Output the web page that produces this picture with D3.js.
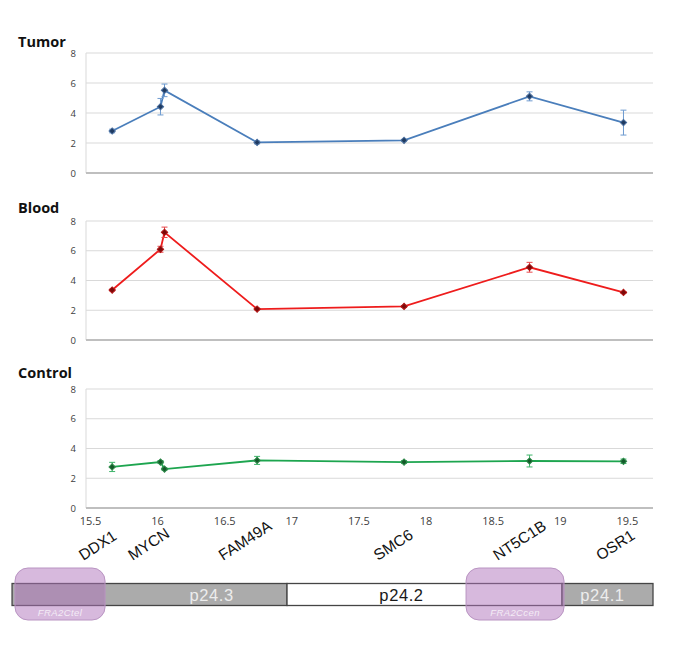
<!DOCTYPE html>
<html><head><meta charset="utf-8">
<script src="https://cdn.jsdelivr.net/npm/d3@7"></script>
<style>body{margin:0;background:#fff}svg{display:block}</style>
</head><body>
<svg id="c" width="685" height="657"></svg>
<script>
// ---- data ----
const genes = ["DDX1", "MYCN", "MYCN", "FAM49A", "SMC6", "NT5C1B", "OSR1"];
const geneLabels = ["DDX1", "MYCN", "FAM49A", "SMC6", "NT5C1B", "OSR1"];
const positions = [15.68, 16.04, 16.07, 16.76, 17.855, 18.79, 19.49]; // Mb
const labelPositions = [15.68, 16.04, 16.76, 17.855, 18.79, 19.49];
const tumor = [2.8, 4.42, 5.51, 2.04, 2.18, 5.11, 3.36];
const tumorErr = [0.12, 0.55, 0.42, 0.1, 0.06, 0.3, 0.83];
const blood = [3.36, 6.1, 7.24, 2.08, 2.26, 4.89, 3.2];
const bloodErr = [0.06, 0.2, 0.35, 0.06, 0.06, 0.33, 0.06];
const control = [2.76, 3.09, 2.62, 3.2, 3.09, 3.16, 3.14];
const controlErr = [0.31, 0.1, 0.08, 0.27, 0.1, 0.4, 0.15];
const yTicks = [0, 2, 4, 6, 8];
const xTicks = [15.5, 16, 16.5, 17, 17.5, 18, 18.5, 19, 19.5];
const bandNames = ["p24.3", "p24.2", "p24.1"];
const bandStarts = [14.934, 16.983, 19.032];
const bandEnds = [16.983, 19.032, 19.71];
const fragileNames = ["FRA2Ctel", "FRA2Ccen"];
const fragileStarts = [14.956, 18.317];
const fragileEnds = [15.627, 19.047];

// ---- layout ----
const svg = d3.select("#c");
const x = d3.scaleLinear().domain([15.485, 19.71]).range([86, 653]);

const panels = [
  {title: "Tumor", vals: tumor, err: tumorErr, top: 53, bottom: 173, titleY: 47,
   line: "#4A7EBB", errC: "#6E9BD0", mFill: "#1F3A60", mStroke: "#4A6E9E"},
  {title: "Blood", vals: blood, err: bloodErr, top: 221, bottom: 340, titleY: 213,
   line: "#EE1C1C", errC: "#E8474A", mFill: "#7A0A0A", mStroke: "#B01515"},
  {title: "Control", vals: control, err: controlErr, top: 389, bottom: 508, titleY: 378,
   line: "#1DA54F", errC: "#3DB56A", mFill: "#145A2A", mStroke: "#2F8A4A"}
];

const diamond = d3.symbol().type(d3.symbolSquare).size(20);

panels.forEach((p, pi) => {
  const y = d3.scaleLinear().domain([0, 8]).range([p.bottom, p.top]);
  const g = svg.append("g");
  g.selectAll("line.grid").data(yTicks.filter(t => t > 0)).join("line")
    .attr("x1", x.range()[0]).attr("x2", x.range()[1])
    .attr("y1", d => y(d)).attr("y2", d => y(d))
    .attr("stroke", "#D9D9D9").attr("stroke-width", 1);
  g.append("line").attr("x1", x.range()[0]).attr("x2", x.range()[0])
    .attr("y1", p.top).attr("y2", p.bottom).attr("stroke", "#D9D9D9");
  const ya = d3.axisLeft(y).tickValues(yTicks).tickSize(0).tickPadding(10).tickFormat(d3.format("d"));
  const yg = g.append("g").attr("transform", `translate(${x.range()[0]},0)`).call(ya);
  yg.select(".domain").remove();
  yg.selectAll("text").attr("font-family", "Open Sans, sans-serif").attr("font-size", 9.5).attr("fill", "#404040");
  g.append("line").attr("x1", x.range()[0]).attr("x2", x.range()[1])
    .attr("y1", p.bottom).attr("y2", p.bottom).attr("stroke", "#BFBFBF").attr("stroke-width", 2);
  if (pi === 2) {
    const xa = d3.axisBottom(x).tickValues(xTicks).tickSize(0).tickPadding(9).tickFormat(d => String(d));
    const xg = g.append("g").attr("transform", `translate(2,${p.bottom})`).call(xa);
    xg.select(".domain").remove();
    xg.selectAll("text").attr("font-family", "Open Sans, sans-serif").attr("font-size", 11).attr("fill", "#404040");
  }
  svg.append("text").attr("x", 18).attr("y", p.titleY).text(p.title)
    .attr("font-family", "Open Sans, sans-serif").attr("font-weight", "bold").attr("font-size", 14.5).attr("fill", "#111");
  const pts = positions.map((pos, i) => [x(pos), y(p.vals[i])]);
  g.append("path").attr("d", d3.line()(pts)).attr("fill", "none")
    .attr("stroke", p.line).attr("stroke-width", 1.8);
  const eb = g.selectAll("g.eb").data(positions).join("g");
  eb.append("line").attr("x1", d => x(d)).attr("x2", d => x(d))
    .attr("y1", (d, i) => y(p.vals[i] + p.err[i])).attr("y2", (d, i) => y(p.vals[i] - p.err[i]))
    .attr("stroke", p.errC).attr("stroke-width", 1);
  [1, -1].forEach(s => {
    eb.append("line").attr("x1", d => x(d) - 3).attr("x2", d => x(d) + 3)
      .attr("y1", (d, i) => y(p.vals[i] + s * p.err[i])).attr("y2", (d, i) => y(p.vals[i] + s * p.err[i]))
      .attr("stroke", p.errC).attr("stroke-width", 1);
  });
  g.selectAll("path.m").data(positions).join("path")
    .attr("d", diamond)
    .attr("transform", (d, i) => `translate(${x(d)},${y(p.vals[i])}) rotate(45)`)
    .attr("fill", p.mFill).attr("stroke", p.mStroke).attr("stroke-width", 1);
});

// gene labels
const labelDx = [-29, -28, -34, -26, -32, -23];
svg.selectAll("text.gene").data(geneLabels).join("text")
  .attr("transform", (d, i) => `translate(${x(labelPositions[i]) + labelDx[i]},561) rotate(-33)`)
  .text(d => d)
  .attr("font-family", "Liberation Sans, Arial, sans-serif").attr("font-size", 15.5).attr("fill", "#111");

// chromosome ideogram
const barTop = 583.5, barH = 22;
svg.selectAll("rect.band").data(bandNames).join("rect")
  .attr("x", (d, i) => x(bandStarts[i])).attr("width", (d, i) => x(bandEnds[i]) - x(bandStarts[i]))
  .attr("y", barTop).attr("height", barH)
  .attr("fill", d => d === "p24.2" ? "#FFFFFF" : "#ABABAB")
  .attr("stroke", "#454545").attr("stroke-width", 1.3);
const bandTextDx = [62, -23, -5];
svg.selectAll("text.band").data(bandNames).join("text")
  .attr("x", (d, i) => (x(bandStarts[i]) + x(bandEnds[i])) / 2 + bandTextDx[i])
  .attr("y", 601).attr("text-anchor", "middle")
  .text(d => d)
  .attr("font-family", "Liberation Sans, Arial, sans-serif").attr("font-size", 16.5)
  .attr("letter-spacing", 0.6)
  .attr("fill", d => d === "p24.2" ? "#1A1A1A" : "#EDEDED");

svg.selectAll("rect.frag").data(fragileNames).join("rect")
  .attr("x", (d, i) => x(fragileStarts[i])).attr("width", (d, i) => x(fragileEnds[i]) - x(fragileStarts[i]))
  .attr("y", 568).attr("height", 52).attr("rx", 13).attr("ry", 13)
  .attr("fill", "rgb(176,116,188)").attr("fill-opacity", 0.5)
  .attr("stroke", "#B994C2").attr("stroke-width", 1);
svg.selectAll("text.frag").data(fragileNames).join("text")
  .attr("x", (d, i) => (x(fragileStarts[i]) + x(fragileEnds[i])) / 2).attr("y", 616).attr("text-anchor", "middle")
  .text(d => d)
  .attr("font-family", "Liberation Sans, Arial, sans-serif").attr("font-style", "italic")
  .attr("font-size", 9.5).attr("letter-spacing", 0.4).attr("fill", "#F4ECF6");
</script>
</body></html>
